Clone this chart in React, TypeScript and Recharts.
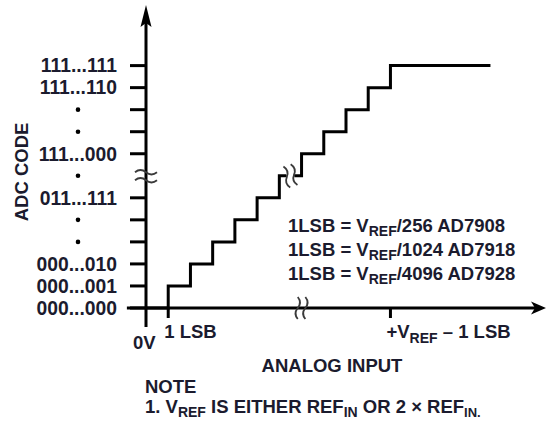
import { LineChart, Line, XAxis, YAxis, ReferenceLine, ReferenceDot } from 'recharts';

// staircase transfer function: analog input (in LSBs) -> output code index
const inputSteps = [0, 1, 2, 3, 4, 5, 6, 7, 8, 9, 10, 11, 15.5];
const outputCodes = [0, 1, 2, 3, 4, 5, 6, 7, 8, 9, 10, 11, 11];

const codeTicks = [0, 1, 2, 3, 4, 5, 6, 7, 8, 9, 10, 11];
const codeLabels = [
  '000...000',
  '000...001',
  '000...010',
  '•',
  '•',
  '011...111',
  '•',
  '111...000',
  '•',
  '•',
  '111...110',
  '111...111',
];
const brokenCode = 6;

const inputTicks = [0, 1, 11];
const lsbDivisors = ['256', '1024', '4096'];
const lsbParts = ['AD7908', 'AD7918', 'AD7928'];

const data = inputSteps.map((x, i) => ({ x, code: outputCodes[i] }));

const FONT = "'Liberation Sans', Arial, Helvetica, sans-serif";
const INK = '#1b1b2e';
const textStyle = { fontFamily: FONT, fontWeight: 700, fontSize: 18.5, fill: INK };
const codeStyle = { ...textStyle, fontSize: 19.3 };

function CodeTick({ x, y, payload }: any) {
  const v = payload.value;
  const label = codeLabels[codeTicks.indexOf(v)];
  return (
    <g>
      {v !== brokenCode && (
        <line x1={x + 13} x2={x + 29} y1={y} y2={y} stroke="#000" strokeWidth={3} />
      )}
      {label === '•' ? (
        <circle cx={x - 39} cy={y} r={2.3} fill="#000" />
      ) : (
        <text x={x} y={y} dy={6.8} textAnchor="end" style={codeStyle}>
          {label}
        </text>
      )}
    </g>
  );
}

function InputTick({ x, y, payload }: any) {
  const v = payload.value;
  if (v === 0) {
    return (
      <text x={x - 13} y={y + 30.5} style={textStyle}>
        0V
      </text>
    );
  }
  return (
    <g>
      <line x1={x} x2={x} y1={y - 10} y2={y} stroke="#000" strokeWidth={3} />
      {v === 1 ? (
        <text x={x - 4} y={y + 19.5} style={textStyle}>
          1 LSB
        </text>
      ) : (
        <text x={x - 4} y={y + 20} style={textStyle}>
          +V
          <tspan dy={5} fontSize={14}>REF</tspan>
          <tspan dy={-5}> – 1 LSB</tspan>
        </text>
      )}
    </g>
  );
}

// axis line with a dart-shaped arrow head at its far end
const arrowLine = (len: number, half: number) => (props: any) => {
  const { x1, y1, x2, y2 } = props;
  const d = Math.hypot(x2 - x1, y2 - y1);
  const ux = (x2 - x1) / d;
  const uy = (y2 - y1) / d;
  const bx = x2 - ux * len;
  const by = y2 - uy * len;
  const nx = bx + ux * 4;
  const ny = by + uy * 4;
  return (
    <g>
      <line x1={x1} y1={y1} x2={nx} y2={ny} stroke="#000" strokeWidth={3} />
      <polygon
        points={`${x2},${y2} ${bx - uy * half},${by + ux * half} ${nx},${ny} ${bx + uy * half},${by - ux * half}`}
        fill="#000"
      />
    </g>
  );
};

const wave = (x: number, y: number, w: number) =>
  `M${x - w},${y} q${w / 2},-4.5 ${w},0 t${w},0`;

function AxisBreakH({ cx, cy }: any) {
  return (
    <g fill="none" stroke="#3a3a3a" strokeWidth={1.8}>
      <path d={wave(cx, cy - 3.5, 11)} />
      <path d={wave(cx, cy + 4.5, 11)} />
    </g>
  );
}

function AxisBreakV({ cx, cy, tilt = 0, gap = false }: any) {
  return (
    <g transform={`translate(${cx},${cy}) rotate(${tilt + 90})`}>
      {gap && <rect x={-11} y={-3.5} width={22} height={7} fill="#fff" />}
      <g fill="none" stroke="#3a3a3a" strokeWidth={1.8}>
        <path d={wave(0, -3.8, 11)} />
        <path d={wave(0, 3.8, 11)} />
      </g>
    </g>
  );
}

const sub = { fontSize: 14, position: 'relative' as const, top: 4 };

export default function App() {
  return (
    <div style={{ position: 'absolute', left: 0, top: 0, width: 547, height: 421, background: '#fff' }}>
      <LineChart
        width={547}
        height={421}
        data={data}
        margin={{ top: 5, right: 1, left: 86, bottom: 83 }}
      >
        <XAxis
          dataKey="x"
          type="number"
          domain={[0, 18]}
          ticks={inputTicks}
          interval={0}
          height={30}
          axisLine={false}
          tickLine={false}
          tickSize={10}
          tickMargin={0}
          tick={<InputTick />}
          label={{
            content: () => (
              <text x={332} y={371.6} textAnchor="middle" style={textStyle}>
                ANALOG INPUT
              </text>
            ),
          }}
        />
        <YAxis
          type="number"
          domain={[0, 13.75]}
          ticks={codeTicks}
          interval={0}
          width={60}
          axisLine={false}
          tickLine={false}
          tickSize={16}
          tickMargin={13}
          tick={<CodeTick />}
          label={{
            content: () => (
              <text
                transform="translate(21,172) rotate(-90)"
                dy={6.6}
                textAnchor="middle"
                style={textStyle}
              >
                ADC CODE
              </text>
            ),
          }}
        />
        <Line
          dataKey="code"
          type="stepAfter"
          stroke="#000"
          strokeWidth={3}
          dot={false}
          isAnimationActive={false}
        />
        <ReferenceLine
          segment={[{ x: 0, y: -0.86 }, { x: 0, y: 13.75 }]}
          ifOverflow="visible"
          shape={arrowLine(22, 5.5)}
        />
        <ReferenceLine
          segment={[{ x: -0.86, y: 0 }, { x: 18, y: 0 }]}
          ifOverflow="visible"
          shape={arrowLine(15, 6.5)}
        />
        <ReferenceDot x={0} y={brokenCode} r={1} ifOverflow="visible" shape={<AxisBreakH />} />
        <ReferenceDot x={7} y={0} r={1} ifOverflow="visible" shape={<AxisBreakV />} />
        <ReferenceDot
          x={6.5}
          y={brokenCode}
          r={1}
          ifOverflow="visible"
          shape={<AxisBreakV tilt={-18} gap />}
        />
      </LineChart>

      <div
        style={{
          position: 'absolute',
          left: 288,
          top: 215,
          fontFamily: FONT,
          fontWeight: 700,
          fontSize: 18.5,
          lineHeight: '22.8px',
          color: INK,
          whiteSpace: 'nowrap',
        }}
      >
        {lsbDivisors.map((div, i) => (
          <div key={div}>
            1LSB = V<span style={sub}>REF</span>/{div} {lsbParts[i]}
          </div>
        ))}
      </div>

      <div
        style={{
          position: 'absolute',
          left: 145,
          top: 377,
          fontFamily: FONT,
          fontWeight: 700,
          fontSize: 18.5,
          lineHeight: '20px',
          color: INK,
          whiteSpace: 'nowrap',
        }}
      >
        <div>NOTE</div>
        <div>
          1. V<span style={sub}>REF</span> IS EITHER REF<span style={sub}>IN</span> OR 2 × REF
          <span style={{ ...sub, fontSize: 13 }}>IN.</span>
        </div>
      </div>
    </div>
  );
}
